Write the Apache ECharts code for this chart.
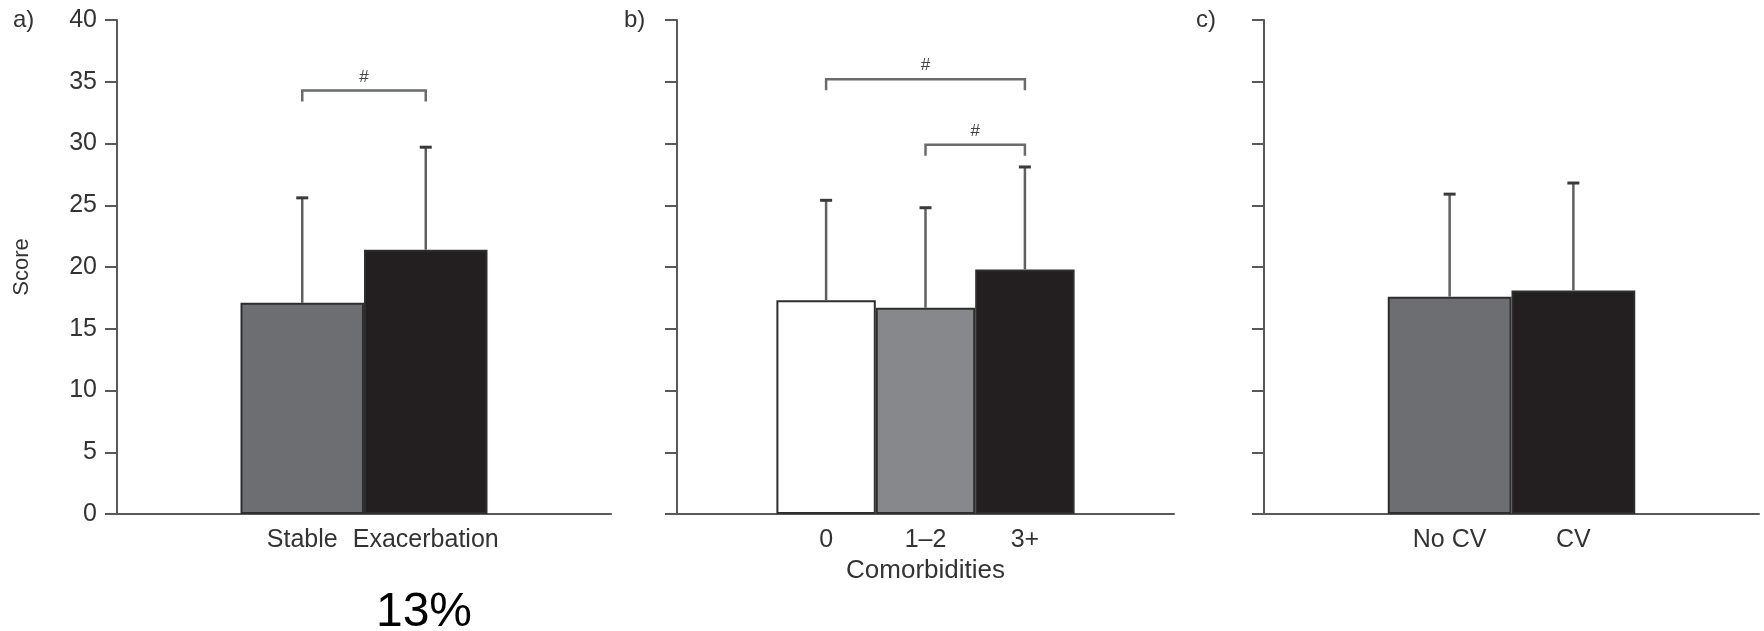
<!DOCTYPE html>
<html>
<head>
<meta charset="utf-8">
<script src="https://cdn.jsdelivr.net/npm/echarts@6/dist/echarts.min.js"></script>
<style>
  html, body { margin: 0; padding: 0; background: #ffffff; }
  #chart { width: 1764px; height: 631px; }
</style>
</head>
<body>
<div id="chart"></div>
<script>
// ---- data ----
const scoreMin = 0, scoreMax = 40, scoreStep = 5;

// a) stable vs exacerbation
const catsA = ['Stable', 'Exacerbation'];
const meanA = [17.1, 21.4];
const sdA = [8.5, 8.3];
const colorsA = ['#6d6e71', '#231f20'];
const bracketsA = [['Stable', 'Exacerbation', 34.3]];

// b) number of comorbidities
const catsB = ['0', '1–2', '3+'];
const meanB = [17.3, 16.7, 19.8];
const sdB = [8.1, 8.1, 8.3];
const colorsB = ['#ffffff', '#87888b', '#231f20'];
const bracketsB = [['0', '3+', 35.2], ['1–2', '3+', 29.9]];

// c) cardiovascular comorbidity
const catsC = ['No CV', 'CV'];
const meanC = [17.6, 18.1];
const sdC = [8.3, 8.7];
const colorsC = ['#6d6e71', '#231f20'];
const bracketsC = [];

const panelLabels = ['a)', 'b)', 'c)'];
const yName = 'Score';
const xNameB = 'Comorbidities';
const footnote = '13%';

// ---- styling ----
const FONT = 'Liberation Sans, Arial, sans-serif';
const AXIS = '#58595b';
const TEXT = '#333333';

const grids = [
  { left: 117, top: 20, width: 494, height: 494 },
  { left: 677, top: 20, width: 497, height: 494 },
  { left: 1264, top: 20, width: 495, height: 494 }
];
const labelX = [13, 624, 1196];

const panels = [
  { cats: catsA, mean: meanA, sd: sdA, colors: colorsA, brackets: bracketsA },
  { cats: catsB, mean: meanB, sd: sdB, colors: colorsB, brackets: bracketsB },
  { cats: catsC, mean: meanC, sd: sdC, colors: colorsC, brackets: bracketsC }
];

// an empty slot on either side of the groups leaves the open space inside each frame
const padded = p => [''].concat(p.cats, ['']);

const xAxes = panels.map((p, i) => ({
  type: 'category',
  gridIndex: i,
  data: padded(p),
  boundaryGap: true,
  axisLine: { lineStyle: { color: AXIS, width: 2 } },
  axisTick: {
    alignWithLabel: true, length: 10,
    interval: (idx, val) => val !== '',
    lineStyle: { color: AXIS, width: 2 }
  },
  axisLabel: { interval: 0, margin: 14, color: TEXT, fontSize: 25, fontFamily: FONT },
  name: i === 1 ? xNameB : '',
  nameLocation: 'middle',
  nameGap: 42,
  nameTextStyle: { color: TEXT, fontSize: 26, fontFamily: FONT },
  splitLine: { show: false }
}));

const yAxes = panels.map((p, i) => ({
  type: 'value',
  gridIndex: i,
  min: scoreMin, max: scoreMax, interval: scoreStep,
  axisLine: { show: true, lineStyle: { color: AXIS, width: 2 } },
  axisTick: { show: true, length: 12, lineStyle: { color: AXIS, width: 2 } },
  axisLabel: { show: i === 0, margin: 20, color: TEXT, fontSize: 25, fontFamily: FONT },
  splitLine: { show: false },
  name: i === 0 ? yName : '',
  nameLocation: 'middle',
  nameRotate: 90,
  nameGap: 84,
  nameTextStyle: { color: TEXT, fontSize: 22, fontFamily: FONT }
}));

const series = [];
panels.forEach((p, i) => {
  const cats = padded(p);
  // bars
  series.push({
    type: 'bar',
    xAxisIndex: i, yAxisIndex: i,
    barCategoryGap: '0%',
    silent: true,
    data: cats.map(c => {
      const k = p.cats.indexOf(c);
      if (k < 0) return null;
      return {
        value: p.mean[k],
        itemStyle: { color: p.colors[k], borderColor: '#2e2e2e', borderWidth: 2 }
      };
    }),
    z: 2
  });
  // upper error bars (mean + SD)
  series.push({
    type: 'custom',
    xAxisIndex: i, yAxisIndex: i,
    silent: true,
    z: 3,
    data: p.cats.map((c, k) => [cats.indexOf(c), p.mean[k], p.sd[k]]),
    renderItem: (params, api) => {
      const x = api.value(0), m = api.value(1), s = api.value(2);
      const a = api.coord([x, m]);
      const b = api.coord([x, m + s]);
      return {
        type: 'group',
        children: [
          { type: 'line', shape: { x1: a[0], y1: a[1], x2: b[0], y2: b[1] },
            style: { stroke: '#5f6062', lineWidth: 2.5 } },
          { type: 'line', shape: { x1: b[0] - 6, y1: b[1], x2: b[0] + 6, y2: b[1] },
            style: { stroke: '#3a3a3a', lineWidth: 3 } }
        ]
      };
    }
  });
  // significance brackets
  if (p.brackets.length) {
    series.push({
      type: 'custom',
      xAxisIndex: i, yAxisIndex: i,
      silent: true,
      z: 4,
      data: p.brackets.map(br => [cats.indexOf(br[0]), cats.indexOf(br[1]), br[2]]),
      renderItem: (params, api) => {
        const h = api.value(2);
        const p1 = api.coord([api.value(0), h]);
        const p2 = api.coord([api.value(1), h]);
        return {
          type: 'group',
          children: [
            { type: 'polyline',
              shape: { points: [[p1[0], p1[1] + 11], [p1[0], p1[1]], [p2[0], p2[1]], [p2[0], p2[1] + 11]] },
              style: { stroke: '#6a6b6d', lineWidth: 2.5, fill: null } },
            { type: 'text',
              style: { text: '#', x: (p1[0] + p2[0]) / 2, y: p1[1] - 5,
                       align: 'center', verticalAlign: 'bottom',
                       fill: '#444444', font: '17px ' + FONT } }
          ]
        };
      }
    });
  }
});

const graphics = panelLabels.map((t, i) => ({
  type: 'text', left: labelX[i], top: 8,
  style: { text: t, fill: TEXT, font: '24px ' + FONT }
}));
graphics.push({
  type: 'text', x: 424, y: 613,
  style: { text: footnote, fill: '#000000', font: '48px ' + FONT,
           align: 'center', verticalAlign: 'middle' }
});

const chart = echarts.init(document.getElementById('chart'), null, { renderer: 'canvas' });
chart.setOption({
  animation: false,
  backgroundColor: '#ffffff',
  grid: grids,
  xAxis: xAxes,
  yAxis: yAxes,
  series: series,
  graphic: graphics
});
</script>
</body>
</html>
